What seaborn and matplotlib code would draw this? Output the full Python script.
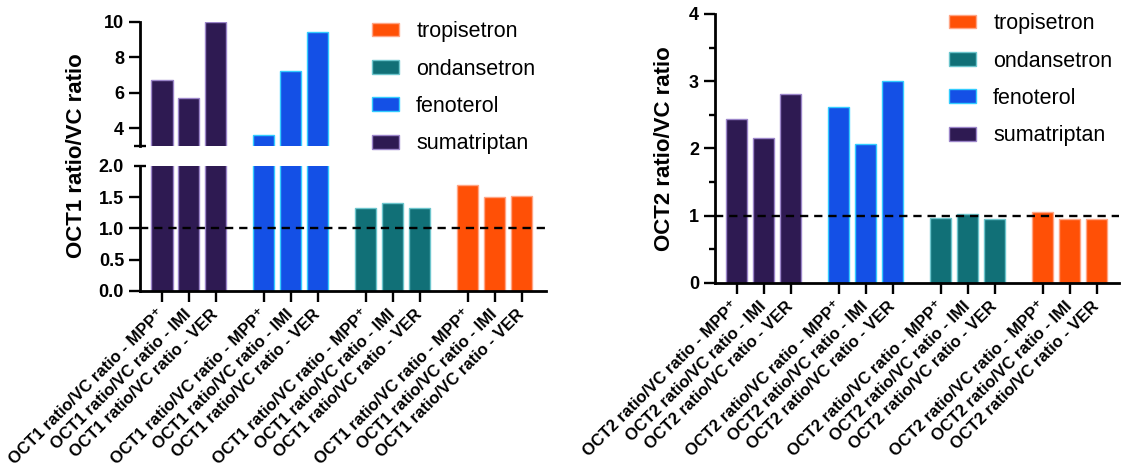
import matplotlib
matplotlib.use('Agg')
import numpy as np
import pandas as pd
import matplotlib.pyplot as plt
import seaborn as sns
from matplotlib.patches import Patch

# --- data ---
drugs = ['sumatriptan', 'fenoterol', 'ondansetron', 'tropisetron']
treatments = ['MPP⁺', 'IMI', 'VER']
oct1_ratios = [[6.71, 5.72, 10.0],
               [3.62, 7.25, 9.45],
               [1.33, 1.41, 1.33],
               [1.69, 1.51, 1.52]]
oct2_ratios = [[2.44, 2.15, 2.81],
               [2.61, 2.06, 3.01],
               [0.97, 1.02, 0.955],
               [1.05, 0.95, 0.955]]
legend_order = ['tropisetron', 'ondansetron', 'fenoterol', 'sumatriptan']

fill_colors = ['#2E1A52', '#1450E6', '#117077', '#FF5006']
edge_colors = ['#9B85C9', '#33CCFF', '#6CC5CC', '#FFA585']

sns.set_theme(style='ticks')
plt.rcParams['font.family'] = ['Liberation Sans', 'DejaVu Sans']
plt.rcParams['axes.linewidth'] = 2.0
plt.rcParams['text.color'] = 'black'
plt.rcParams['axes.labelcolor'] = 'black'
plt.rcParams['xtick.color'] = 'black'
plt.rcParams['ytick.color'] = 'black'
plt.rcParams['axes.edgecolor'] = 'black'

group_step = 3.78
bar_width = 0.78


def draw_bars(ax, ratios):
    positions = []
    for i, drug in enumerate(drugs):
        pos = i * group_step + np.arange(len(treatments))
        df = pd.DataFrame({'pos': pos, 'ratio': ratios[i]})
        sns.barplot(data=df, x='pos', y='ratio', native_scale=True, errorbar=None,
                    color=fill_colors[i], edgecolor=edge_colors[i], linewidth=1.0,
                    saturation=1, width=bar_width, ax=ax)
        positions.extend(pos)
    ax.axhline(1.0, color='black', lw=1.7, dashes=(3.5, 2.5), zorder=5)
    ax.set_xlabel('')
    ax.set_ylabel('')
    return positions


def style_axis(ax):
    sns.despine(ax=ax)
    ax.tick_params(axis='both', width=1.7, length=8, labelsize=13,
                   color='black', labelcolor='black')
    for lab in ax.get_yticklabels():
        lab.set_fontweight('bold')


def set_xlabels(ax, positions, prefix):
    ax.set_xticks(positions)
    labels = [f'{prefix} ratio/VC ratio - {t}' for _ in drugs for t in treatments]
    ax.set_xticklabels(labels, rotation=45, ha='right', va='center',
                       rotation_mode='anchor', fontsize=12, fontweight='bold')
    ax.tick_params(axis='x', pad=7)


fig = plt.figure(figsize=(11.21, 4.71), dpi=100)

# left panel: broken y axis
ax_lo = fig.add_axes([0.1249, 0.3822, 0.3622, 0.2654])
ax_hi = fig.add_axes([0.1249, 0.690, 0.3622, 0.2633])

pos1 = draw_bars(ax_lo, oct1_ratios)
draw_bars(ax_hi, oct1_ratios)
for ax in (ax_lo, ax_hi):
    ax.set_xlim(-0.815, 14.24)
    style_axis(ax)

ax_lo.set_ylim(0, 2.0)
ax_lo.set_yticks([0, 0.5, 1.0, 1.5, 2.0])
ax_lo.set_yticklabels(['0.0', '0.5', '1.0', '1.5', '2.0'], fontweight='bold')
set_xlabels(ax_lo, pos1, 'OCT1')

ax_hi.set_ylim(3, 10)
ax_hi.set_yticks([3, 4, 6, 8, 10])
ax_hi.set_yticklabels(['', '4', '6', '8', '10'], fontweight='bold')
ax_hi.spines['bottom'].set_visible(False)
ax_hi.tick_params(axis='x', bottom=False, labelbottom=False)

# break marks at the ends of the two segments
for tick in (ax_lo.yaxis.get_major_ticks()[-1], ax_hi.yaxis.get_major_ticks()[0]):
    tick.tick1line.set_marker('_')
    tick.tick1line.set_markersize(9)

fig.text(77 / 1121, (471 - 156) / 471, 'OCT1 ratio/VC ratio', rotation=90,
         ha='center', va='center', fontsize=16, fontweight='bold')

# right panel
ax_r = fig.add_axes([0.6378, 0.3992, 0.3604, 0.5711])
pos2 = draw_bars(ax_r, oct2_ratios)
ax_r.set_xlim(-0.80, 14.17)
ax_r.set_ylim(0, 4)
ax_r.set_yticks([0, 1, 2, 3, 4])
ax_r.set_yticks([0.5, 1.5, 2.5, 3.5], minor=True)
style_axis(ax_r)
ax_r.tick_params(axis='y', which='minor', width=1.7, length=4.5, color='black', left=True)
set_xlabels(ax_r, pos2, 'OCT2')
ax_r.set_ylabel('OCT2 ratio/VC ratio', fontsize=16, fontweight='bold', labelpad=10)

# legends
handles = []
for name in legend_order:
    i = drugs.index(name)
    handles.append(Patch(facecolor=fill_colors[i], edgecolor=edge_colors[i], linewidth=1.0, label=name))

for x0, y0 in [(372 / 1121, 0.955), (949 / 1121, 0.972)]:
    fig.legend(handles=handles, loc='upper left', bbox_to_anchor=(x0, y0),
               frameon=False, fontsize=15.5, borderpad=0, borderaxespad=0,
               handlelength=1.25, handleheight=0.6, handletextpad=0.8,
               labelspacing=0.76)

fig.savefig('out.png', dpi=100)
